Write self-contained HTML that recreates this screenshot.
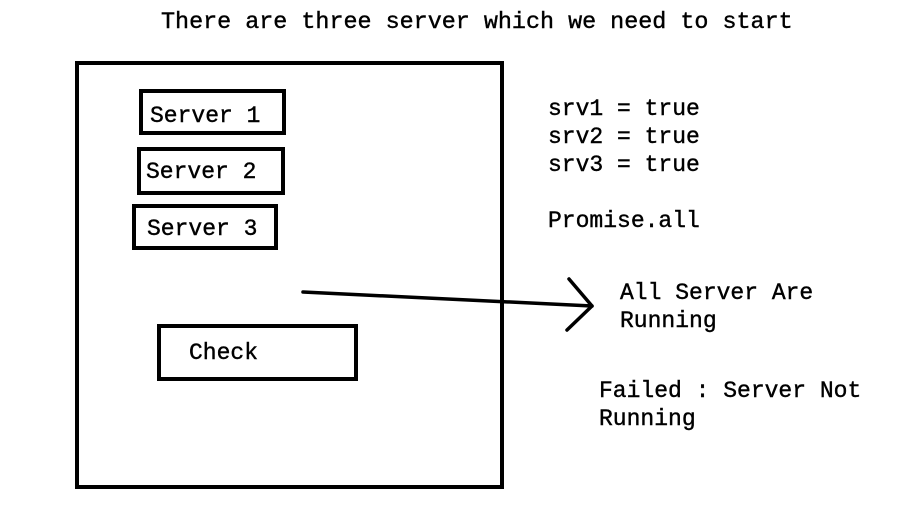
<!DOCTYPE html>
<html><head><meta charset="utf-8"><style>
html,body{margin:0;padding:0;background:#fff;}
svg{display:block;}
text{font-family:"Liberation Mono","DejaVu Sans Mono",monospace;font-size:23px;fill:#000;stroke:#000;stroke-width:0.4;}
</style></head><body>
<svg width="918" height="522" viewBox="0 0 918 522" xmlns="http://www.w3.org/2000/svg">
<rect width="918" height="522" fill="#fff"/>
<text x="161" y="28" style="font-size:23.4px">There are three server which we need to start</text>
<g fill="none" stroke="#000" stroke-width="4">
<rect x="77" y="63" width="425" height="424"/>
<rect x="141" y="91" width="143" height="42"/>
<rect x="139" y="149" width="144" height="44"/>
<rect x="134" y="206" width="142" height="42"/>
<rect x="159" y="326" width="197" height="53"/>
</g>
<text x="150" y="122">Server 1</text>
<text x="146" y="178">Server 2</text>
<text x="147" y="235">Server 3</text>
<text x="189" y="359">Check</text>
<g fill="none" stroke="#000" stroke-width="3.5" stroke-linecap="round" stroke-linejoin="round">
<line x1="303" y1="292" x2="592" y2="306"/>
<polyline points="569,279 592,306 567,330"/>
</g>
<text x="548" y="115">srv1 = true</text>
<text x="548" y="143">srv2 = true</text>
<text x="548" y="171">srv3 = true</text>
<text x="548" y="227">Promise.all</text>
<text x="620" y="299">All Server Are</text>
<text x="620" y="327">Running</text>
<text x="599" y="397">Failed : Server Not</text>
<text x="599" y="425">Running</text>
</svg>
</body></html>
